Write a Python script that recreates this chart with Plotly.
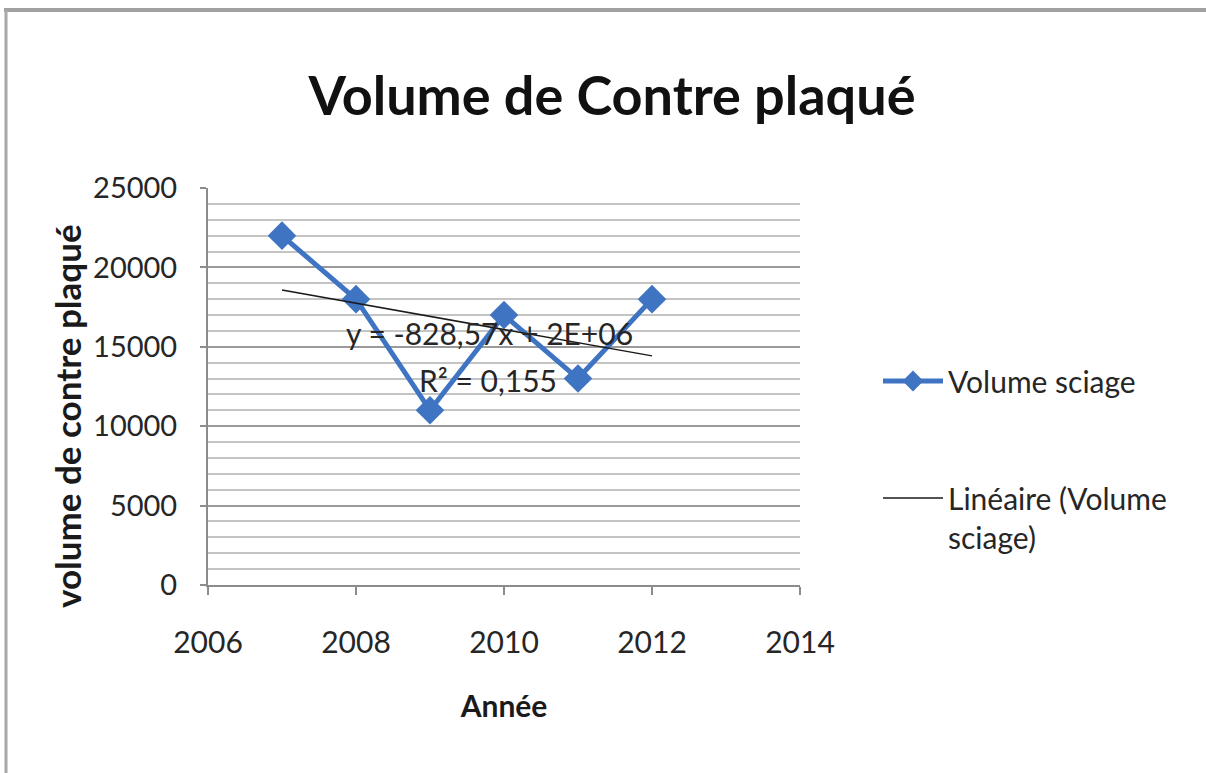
import numpy as np
import plotly.graph_objects as go

# Yearly plywood volumes
years = [2007, 2008, 2009, 2010, 2011, 2012]
volumes = [22000, 18000, 11000, 17000, 13000, 18000]

x_ticks = [2006, 2008, 2010, 2012, 2014]
y_ticks = [0, 5000, 10000, 15000, 20000, 25000]

series_name = "Volume sciage"
trend_name = "Linéaire (Volume<br>sciage)"
title_text = "Volume de Contre plaqué"
x_title = "Année"
y_title = "volume de contre plaqué"

# Least-squares linear trend
slope, intercept = np.polyfit(years, volumes, 1)
fitted = np.polyval([slope, intercept], years)
ss_res = float(np.sum((np.array(volumes) - fitted) ** 2))
ss_tot = float(np.sum((np.array(volumes) - np.mean(volumes)) ** 2))
r2 = 1 - ss_res / ss_tot


def fr(v, nd):
    return f"{v:.{nd}f}".replace(".", ",")


eq_text = f"y = {fr(slope, 2)}x + {intercept:.0E}"
r2_text = f"R² = {fr(r2, 3)}"

W, H = 1206, 773
L, R, T, B = 208, 800, 188, 585

FONT = "Lato, 'Open Sans', sans-serif"
BLUE = "#3F74C2"
TXT = "#262626"
FS = 30

fig = go.Figure()

fig.add_trace(go.Scatter(
    x=years, y=volumes, mode="lines+markers", name=series_name,
    line=dict(color=BLUE, width=5),
    marker=dict(symbol="diamond", size=22, color=BLUE),
    legendgroup="a",
))

trend_x = [years[0], years[-1]]
trend_y = list(np.polyval([slope, intercept], trend_x))
fig.add_trace(go.Scatter(
    x=trend_x, y=trend_y, mode="lines", name=trend_name,
    line=dict(color="#1a1a1a", width=1.5),
    legendgroup="b",
))

fig.add_annotation(x=2009.81, y=15870, text=eq_text, showarrow=False,
                   font=dict(family=FONT, size=FS, color=TXT))
fig.add_annotation(x=2009.78, y=12900, text=r2_text, showarrow=False,
                   font=dict(family=FONT, size=FS, color=TXT))

pw = R - L
ph = B - T


def px_x(p):
    return (p - L) / pw


def px_y(p):
    return (B - p) / ph


# vertical axis title
fig.add_annotation(xref="paper", yref="paper", x=px_x(67), y=px_y(416),
                   text=f"<b>{y_title}</b>", textangle=-90, showarrow=False,
                   xanchor="center", yanchor="middle",
                   font=dict(family=FONT, size=35, color="#1a1a1a"))

# outer chart frame
fig.add_shape(type="line", xref="paper", yref="paper",
              x0=px_x(4), x1=px_x(1206), y0=px_y(10), y1=px_y(10),
              line=dict(color="#a0a0a0", width=4))
fig.add_shape(type="line", xref="paper", yref="paper",
              x0=px_x(6), x1=px_x(6), y0=px_y(10), y1=px_y(773),
              line=dict(color="#a8a8a8", width=3))

fig.update_layout(
    width=W, height=H,
    margin=dict(l=L, r=W - R, t=T, b=H - B),
    paper_bgcolor="white", plot_bgcolor="white",
    font=dict(family=FONT, color=TXT),
    title=dict(text=f"<b>{title_text}</b>", x=612 / W, xanchor="center",
               y=1 - 96 / H, yanchor="middle",
               font=dict(family=FONT, size=54, color="#111111")),
    legend=dict(x=px_x(878), y=px_y(355), xanchor="left", yanchor="top",
                font=dict(family=FONT, size=FS, color=TXT),
                traceorder="grouped", tracegroupgap=75, valign="top",
                itemwidth=60, bgcolor="rgba(0,0,0,0)"),
    showlegend=True,
)

fig.update_xaxes(
    range=[2006, 2014], tickvals=x_ticks, ticktext=[str(v) for v in x_ticks],
    showgrid=False, zeroline=False,
    showline=True, linecolor="#8c8c8c", linewidth=2,
    ticks="outside", ticklen=8, tickwidth=2, tickcolor="#8c8c8c",
    tickfont=dict(family=FONT, size=FS, color=TXT),
    ticklabelstandoff=22,
    title=dict(text=f"<b>{x_title}</b>", standoff=38,
               font=dict(family=FONT, size=FS, color="#1a1a1a")),
)

fig.update_yaxes(
    range=[0, 25000], tickvals=y_ticks, ticktext=[str(v) for v in y_ticks],
    showgrid=True, gridcolor="#9a9a9a", gridwidth=2, zeroline=False,
    showline=True, linecolor="#8c8c8c", linewidth=2,
    ticks="outside", ticklen=6, tickwidth=2, tickcolor="#8c8c8c",
    tickfont=dict(family=FONT, size=29, color=TXT),
    ticklabelstandoff=17,
    minor=dict(dtick=1000, showgrid=True, gridcolor="#c4c4c4", gridwidth=2,
               ticks=""),
)

fig.write_html("out.html")
